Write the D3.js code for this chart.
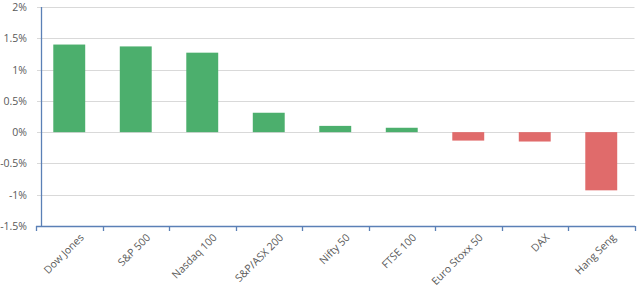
<!DOCTYPE html>
<html>
<head>
<meta charset="UTF-8">
<script src="https://d3js.org/d3.v7.min.js"></script>
<style>
  body { margin: 0; background: #fff; }
  text { font-family: "Open Sans", sans-serif; fill: #595959; }
</style>
</head>
<body>
<svg width="639" height="291"></svg>
<script>
// data
var indices = ["Dow Jones", "S&P 500", "Nasdaq 100", "S&P/ASX 200", "Nifty 50", "FTSE 100", "Euro Stoxx 50", "DAX", "Hang Seng"];
var changes = [1.40, 1.37, 1.27, 0.31, 0.10, 0.07, -0.135, -0.15, -0.93];
var yTicks = [2, 1.5, 1, 0.5, 0, -0.5, -1, -1.5];

var svg = d3.select("svg");

var plotLeft = 36, plotRight = 634.5, plotTop = 7, plotBottom = 226;

var x = d3.scaleBand().domain(indices).range([plotLeft, plotRight]).paddingInner(0.52).paddingOuter(0.26);
var xb = d3.scaleBand().domain(indices).range([plotLeft, plotRight]);
var y = d3.scaleLinear().domain([-1.5, 2]).range([plotBottom, plotTop]);

// gridlines
svg.append("g").selectAll("line")
  .data(yTicks.filter(function (d) { return d != -1.5; }))
  .enter().append("line")
  .attr("x1", plotLeft + 1).attr("x2", plotRight)
  .attr("y1", function (d) { return Math.round(y(d)) + 0.5; })
  .attr("y2", function (d) { return Math.round(y(d)) + 0.5; })
  .attr("stroke", "#d9d9d9").attr("stroke-width", 1);

// y labels
svg.append("g").selectAll("text")
  .data(yTicks)
  .enter().append("text")
  .attr("x", 27)
  .attr("y", function (d) { return y(d) + 4; })
  .attr("text-anchor", "end")
  .style("font-size", "10.5px")
  .text(function (d) { return d + "%"; });

// bars
svg.append("g").selectAll("rect")
  .data(indices)
  .enter().append("rect")
  .attr("x", function (d) { return x(d); })
  .attr("width", x.bandwidth())
  .attr("y", function (d, i) { return y(Math.max(0, changes[i])); })
  .attr("height", function (d, i) { return Math.abs(y(changes[i]) - y(0)); })
  .attr("fill", function (d, i) { return changes[i] >= 0 ? "#4caf6d" : "#e06b6b"; });

// y axis line
svg.append("line")
  .attr("x1", 41.5).attr("x2", 41.5)
  .attr("y1", plotTop).attr("y2", plotBottom)
  .attr("stroke", "#5b80b6").attr("stroke-width", 1.3);

// x axis line + ticks
svg.append("line")
  .attr("x1", plotLeft).attr("x2", plotRight + 0.5)
  .attr("y1", plotBottom + 0.5).attr("y2", plotBottom + 0.5)
  .attr("stroke", "#5b80b6").attr("stroke-width", 1.3);

var tickPos = indices.map(function (d) { return xb(d); }).concat([plotRight]);
svg.append("g").selectAll("line")
  .data(tickPos)
  .enter().append("line")
  .attr("x1", function (d) { return Math.round(d) + 0.5; })
  .attr("x2", function (d) { return Math.round(d) + 0.5; })
  .attr("y1", plotBottom).attr("y2", plotBottom + 5)
  .attr("stroke", "#5b80b6").attr("stroke-width", 1.3);

// x labels
svg.append("g").selectAll("text")
  .data(indices)
  .enter().append("text")
  .attr("transform", function (d) {
    var cx = xb(d) + xb.bandwidth() / 2;
    return "translate(" + (cx + 10) + "," + (plotBottom + 7) + ") rotate(-45)";
  })
  .attr("text-anchor", "end")
  .attr("dy", "0.7em")
  .style("font-size", "10.5px")
  .text(function (d) { return d; });
</script>
</body>
</html>
